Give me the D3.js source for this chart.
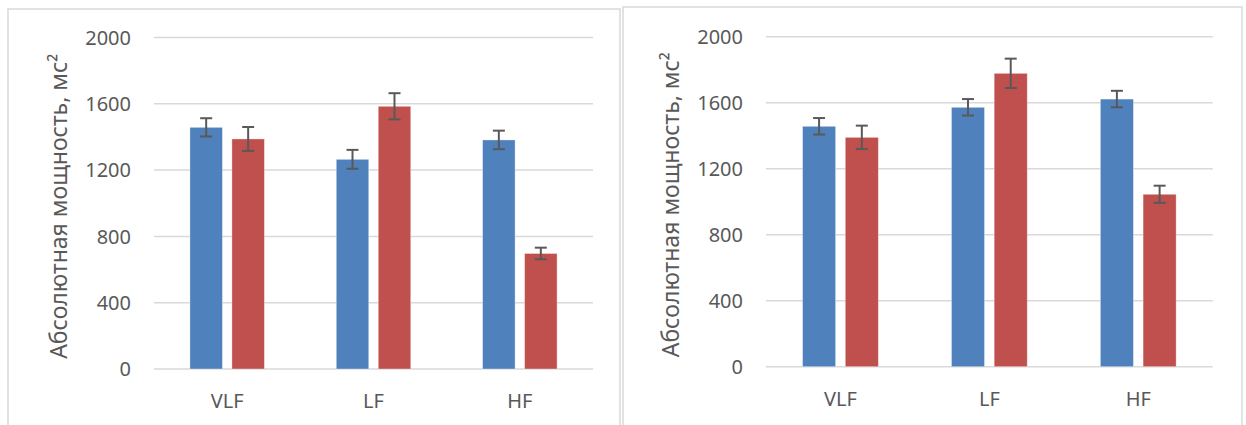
<!DOCTYPE html>
<html>
<head>
<meta charset="utf-8">
<script src="https://cdn.jsdelivr.net/npm/d3@7"></script>
<style>
  html, body { margin: 0; padding: 0; background: #ffffff; }
  svg { display: block; }
  text { font-family: "Noto Sans", "DejaVu Sans", sans-serif; fill: #595959; }
</style>
</head>
<body>
<svg id="chart" width="1246" height="425"></svg>
<script>
// Frequency bands and absolute spectral power (ms²) with error margins
const categories = ["VLF", "LF", "HF"];
const yTicks = [0, 400, 800, 1200, 1600, 2000];
const yTitle = "Абсолютная мощность, мс²";

// Left chart
const leftBlue    = [1458, 1265, 1382];
const leftBlueErr = [55, 57, 56];
const leftRed     = [1388, 1585, 697];
const leftRedErr  = [72, 79, 35];

// Right chart
const rightBlue    = [1457, 1572, 1622];
const rightBlueErr = [50, 50, 50];
const rightRed     = [1390, 1778, 1045];
const rightRedErr  = [71, 89, 52];

const seriesColors = ["#4F81BD", "#C0504D"];

const svg = d3.select("#chart");

function drawPanel(opts) {
  const g = svg.append("g");

  // Panel frame
  g.append("rect")
    .attr("x", opts.frame[0]).attr("y", opts.frame[1])
    .attr("width", opts.frame[2]).attr("height", opts.frame[3])
    .attr("fill", "#ffffff")
    .attr("stroke", "#d9d9d9").attr("stroke-width", 1.5);

  const x0 = d3.scaleBand().domain(categories).range([opts.left, opts.right]).padding(0);
  const y = d3.scaleLinear().domain([0, 2000]).range([opts.bottom, opts.top]);

  const groupW = x0.bandwidth() * 0.509;
  const x1 = d3.scaleBand().domain([0, 1]).range([-groupW / 2, groupW / 2])
    .paddingInner(0.226).paddingOuter(0);

  // Gridlines
  g.append("g").selectAll("line").data(yTicks).join("line")
    .attr("x1", opts.left).attr("x2", opts.right)
    .attr("y1", d => y(d)).attr("y2", d => y(d))
    .attr("stroke", "#d9d9d9").attr("stroke-width", 1.5);

  // Y tick labels
  g.append("g").selectAll("text").data(yTicks).join("text")
    .attr("x", opts.left - 23).attr("y", d => y(d))
    .attr("dy", "0.36em")
    .attr("text-anchor", "end")
    .style("font-size", "20px")
    .text(d => d);

  // Category labels
  g.append("g").selectAll("text").data(categories).join("text")
    .attr("x", d => x0(d) + x0.bandwidth() / 2)
    .attr("y", opts.bottom + 39)
    .attr("text-anchor", "middle")
    .style("font-size", "20px")
    .text(d => d);

  // Axis title
  g.append("text")
    .attr("transform", `translate(${opts.titleX},${(opts.top + opts.bottom) / 2 + 3}) rotate(-90)`)
    .attr("text-anchor", "middle")
    .style("font-size", "23px")
    .text(yTitle);

  const series = [
    { vals: opts.blue, errs: opts.blueErr, color: seriesColors[0] },
    { vals: opts.red, errs: opts.redErr, color: seriesColors[1] }
  ];

  series.forEach((s, si) => {
    const rows = categories.map((c, i) => ({ c, v: s.vals[i], e: s.errs[i] }));
    const cx = d => x0(d.c) + x0.bandwidth() / 2 + x1(si);

    g.append("g").selectAll("rect").data(rows).join("rect")
      .attr("x", cx)
      .attr("y", d => y(d.v))
      .attr("width", x1.bandwidth())
      .attr("height", d => y(0) - y(d.v))
      .attr("fill", s.color)
      .attr("stroke", "#ffffff").attr("stroke-opacity", 0.45).attr("stroke-width", 0.8);

    const eb = g.append("g").attr("stroke", "#595959").attr("stroke-width", 2);
    const mid = d => cx(d) + x1.bandwidth() / 2;
    eb.selectAll("line.v").data(rows).join("line").attr("class", "v")
      .attr("x1", mid).attr("x2", mid)
      .attr("y1", d => y(d.v + d.e)).attr("y2", d => y(d.v - d.e));
    eb.selectAll("line.t").data(rows).join("line").attr("class", "t")
      .attr("x1", d => mid(d) - 6).attr("x2", d => mid(d) + 6)
      .attr("y1", d => y(d.v + d.e)).attr("y2", d => y(d.v + d.e));
    eb.selectAll("line.b").data(rows).join("line").attr("class", "b")
      .attr("x1", d => mid(d) - 6).attr("x2", d => mid(d) + 6)
      .attr("y1", d => y(d.v - d.e)).attr("y2", d => y(d.v - d.e));
  });
}

drawPanel({
  frame: [8, 9, 612, 430],
  left: 154, right: 593, top: 37.5, bottom: 369,
  titleX: 67,
  blue: leftBlue, blueErr: leftBlueErr, red: leftRed, redErr: leftRedErr
});

drawPanel({
  frame: [623, 7, 619, 430],
  left: 766, right: 1212.7, top: 36.7, bottom: 366.7,
  titleX: 679,
  blue: rightBlue, blueErr: rightBlueErr, red: rightRed, redErr: rightRedErr
});
</script>
</body>
</html>
